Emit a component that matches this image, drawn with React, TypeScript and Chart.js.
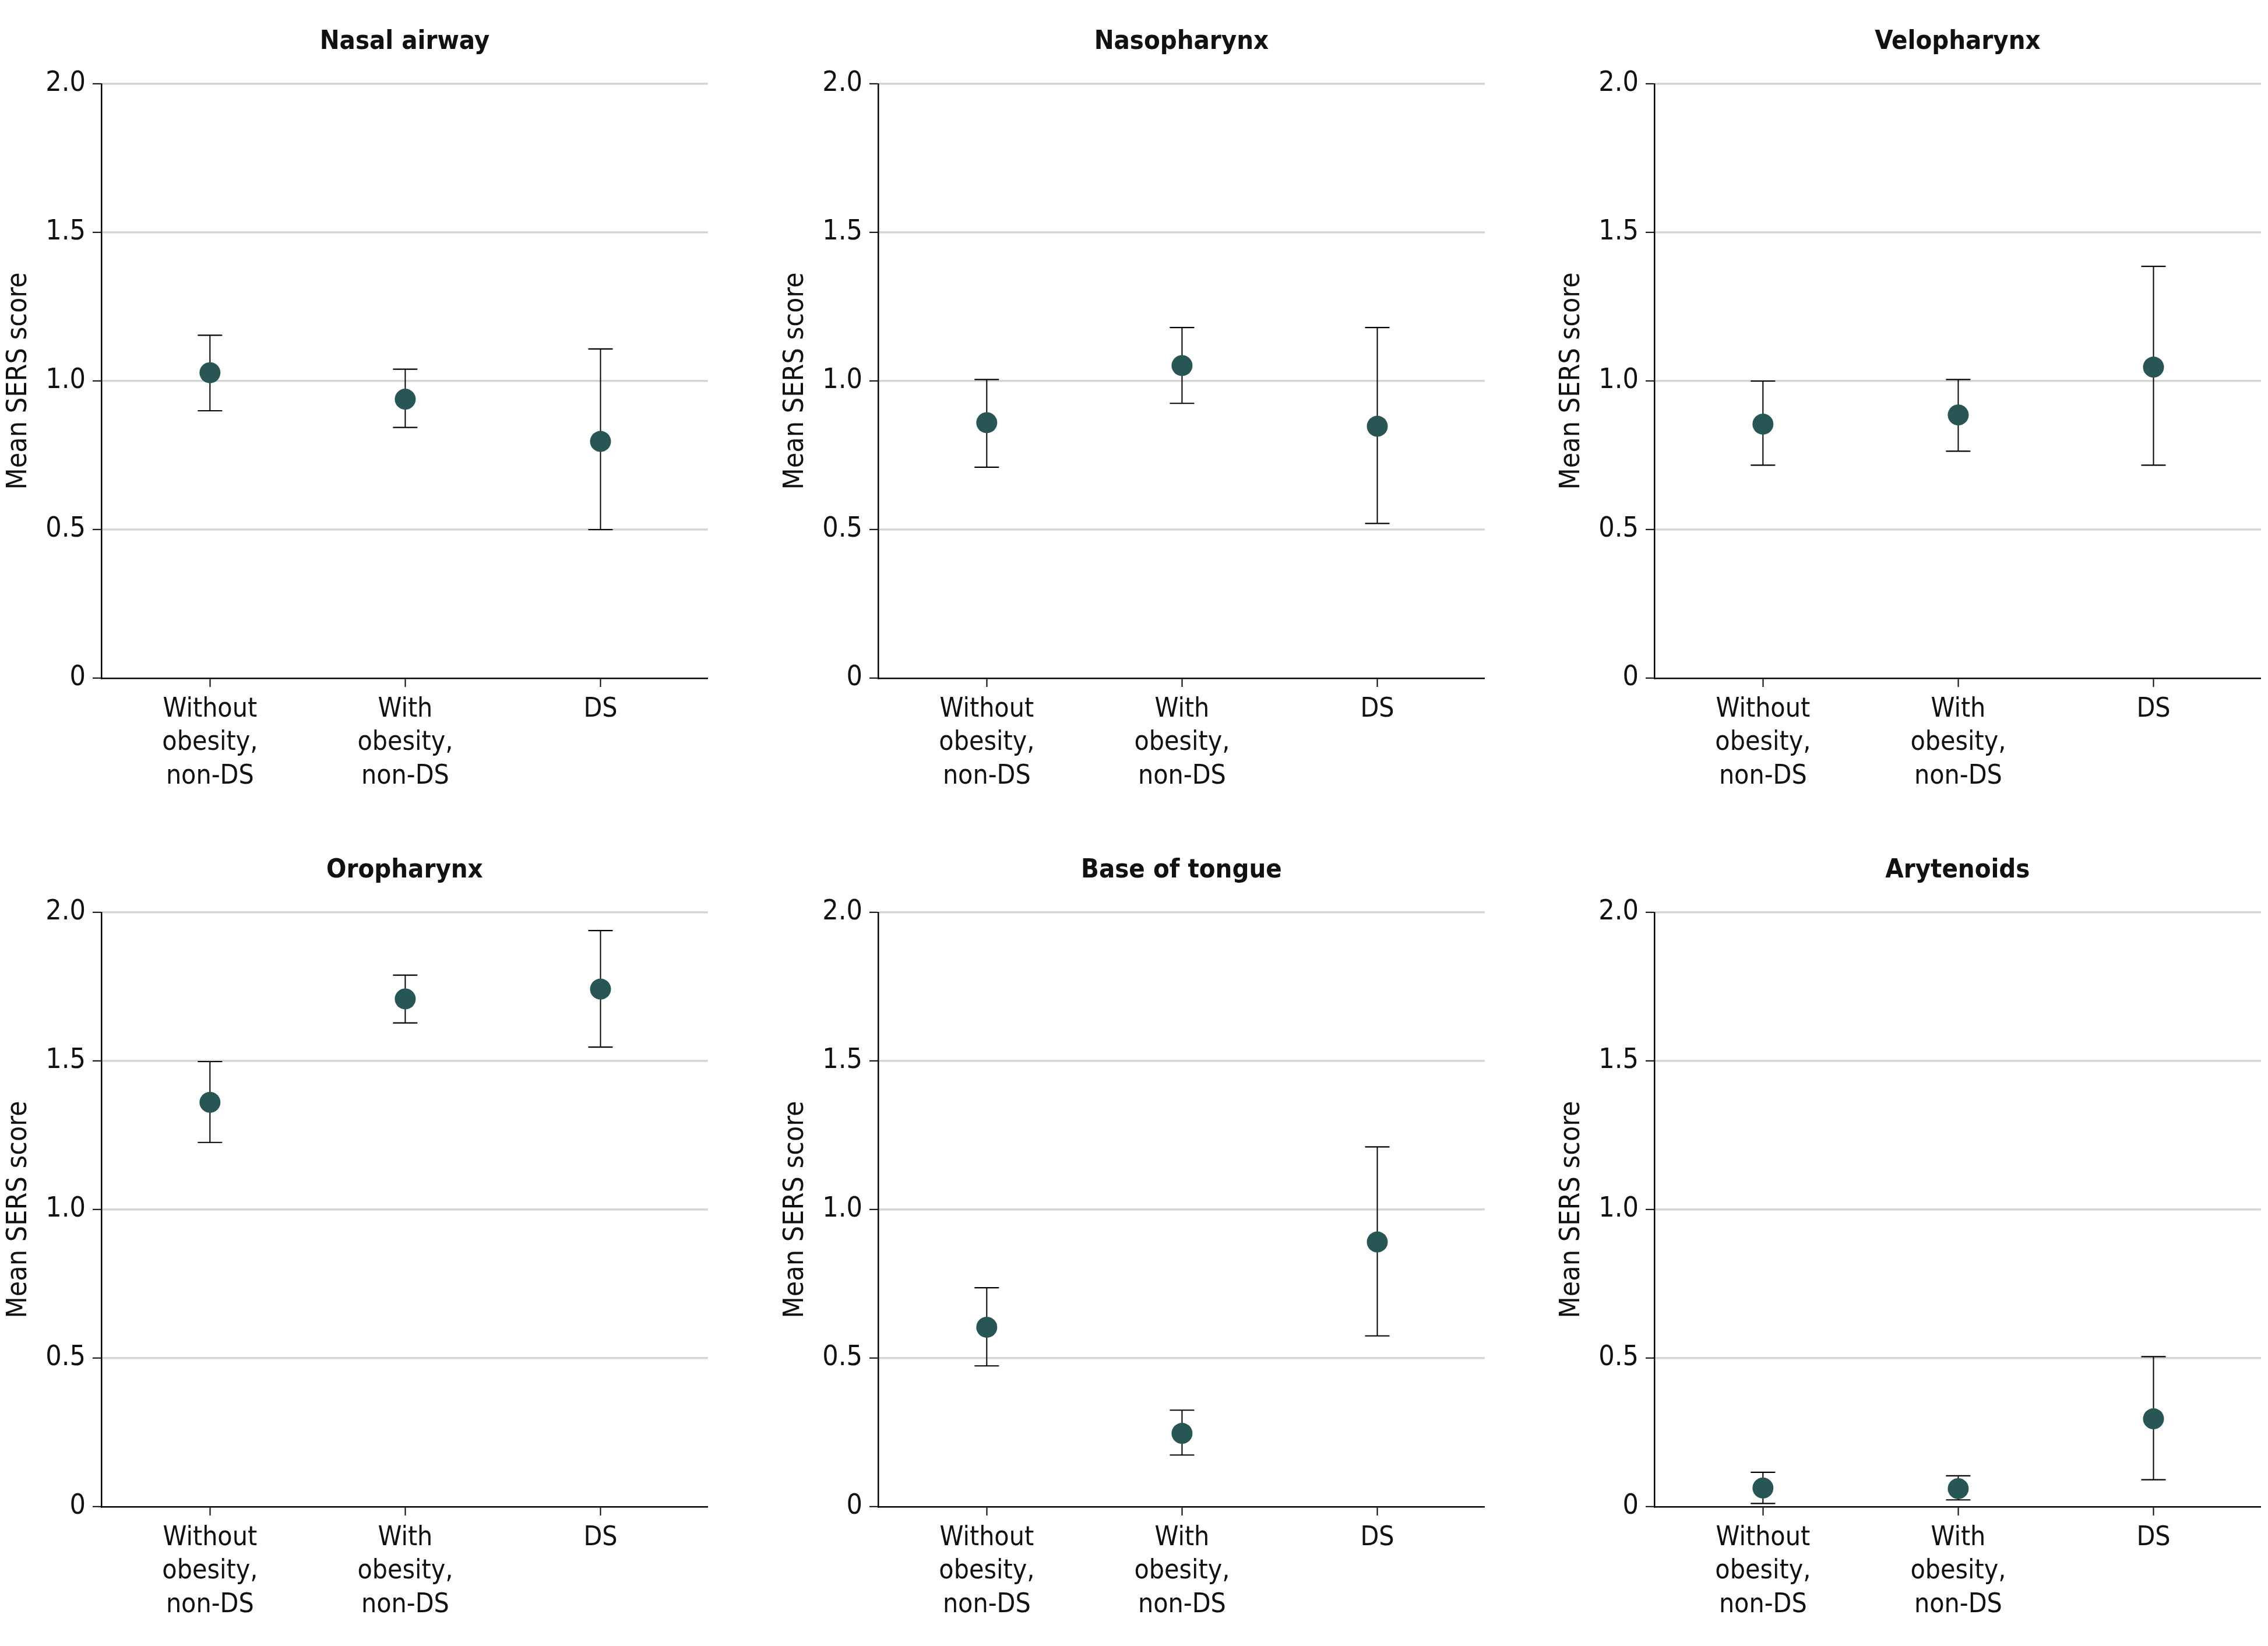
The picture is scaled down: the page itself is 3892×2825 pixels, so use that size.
import React, { useEffect, useRef } from 'react';
import { Chart, registerables } from 'chart.js';

Chart.register(...registerables);

// ---- Data ----
const panelTitles = ['Nasal airway', 'Nasopharynx', 'Velopharynx', 'Oropharynx', 'Base of tongue', 'Arytenoids'];
const categoryLabels: string[][] = [
  ['Without', 'obesity,', 'non-DS'],
  ['With', 'obesity,', 'non-DS'],
  ['DS'],
];
const yTickValues = [0, 0.5, 1.0, 1.5, 2.0];
const yAxisTitle = 'Mean SERS score';

const nasalAirwayMean = [1.028, 0.939, 0.797];
const nasalAirwayLower = [0.9, 0.844, 0.5];
const nasalAirwayUpper = [1.154, 1.04, 1.108];

const nasopharynxMean = [0.86, 1.052, 0.848];
const nasopharynxLower = [0.71, 0.925, 0.521];
const nasopharynxUpper = [1.005, 1.18, 1.18];

const velopharynxMean = [0.855, 0.886, 1.047];
const velopharynxLower = [0.717, 0.764, 0.717];
const velopharynxUpper = [1.0, 1.005, 1.386];

const oropharynxMean = [1.361, 1.709, 1.742];
const oropharynxLower = [1.226, 1.628, 1.547];
const oropharynxUpper = [1.498, 1.789, 1.939];

const baseOfTongueMean = [0.604, 0.247, 0.891];
const baseOfTongueLower = [0.474, 0.174, 0.575];
const baseOfTongueUpper = [0.737, 0.325, 1.211];

const arytenoidsMean = [0.063, 0.061, 0.296];
const arytenoidsLower = [0.011, 0.023, 0.091];
const arytenoidsUpper = [0.116, 0.104, 0.505];

const panelMeans = [nasalAirwayMean, nasopharynxMean, velopharynxMean, oropharynxMean, baseOfTongueMean, arytenoidsMean];
const panelLowers = [nasalAirwayLower, nasopharynxLower, velopharynxLower, oropharynxLower, baseOfTongueLower, arytenoidsLower];
const panelUppers = [nasalAirwayUpper, nasopharynxUpper, velopharynxUpper, oropharynxUpper, baseOfTongueUpper, arytenoidsUpper];

// ---- Layout / style ----
const FONT = "'DejaVu Sans Condensed', 'DejaVu Sans', sans-serif";
const TEXT = '#111111';
const DOT = '#285654';
const GRID = '#d4d4d4';
const COL_LEFT = [0, 1333, 2665];
const ROW_TOP = [0, 1422];
const CANVAS_W = 1238;
const CANVAS_H = 1400;
const Y_AXIS_W = 174;
const X_AXIS_H = 236;
const PAD_RIGHT = 10;

type PanelProps = { title: string; mean: number[]; lower: number[]; upper: number[]; left: number; top: number };

function Panel({ title, mean, lower, upper, left, top }: PanelProps) {
  const ref = useRef<HTMLCanvasElement | null>(null);
  useEffect(() => {
    if (!ref.current) return;
    const datasets: any[] = [
      {
        label: 'Mean',
        data: mean.map((m, i) => ({ x: i, y: m })),
        showLine: false,
        pointRadius: 18,
        pointHoverRadius: 18,
        pointBackgroundColor: DOT,
        pointBorderColor: DOT,
        pointBorderWidth: 0,
      },
      ...mean.map((_, i) => ({
        label: 'CI ' + i,
        data: [
          { x: i, y: lower[i] },
          { x: i, y: upper[i] },
        ],
        showLine: true,
        borderColor: '#000',
        borderWidth: 2,
        pointStyle: 'line',
        pointRadius: 21,
        pointHoverRadius: 21,
        pointBorderColor: '#000',
        pointBackgroundColor: '#000',
        pointBorderWidth: 2.2,
      })),
    ];
    const chart = new Chart(ref.current, {
      type: 'scatter',
      data: { datasets },
      options: {
        animation: false,
        responsive: false,
        maintainAspectRatio: false,
        devicePixelRatio: 1,
        events: [],
        layout: { padding: { left: 0, right: PAD_RIGHT, top: 0, bottom: 0 } },
        plugins: {
          legend: { display: false },
          tooltip: { enabled: false },
          title: {
            display: true,
            text: title,
            fullSize: false,
            color: TEXT,
            font: { family: FONT, size: 45, weight: 'bold', lineHeight: 1.2 },
            padding: { top: 45, bottom: 45 },
          },
        },
        scales: {
          x: {
            type: 'linear',
            min: -0.556,
            max: 2.55,
            afterBuildTicks: (s: any) => {
              s.ticks = categoryLabels.map((_, i) => ({ value: i }));
            },
            afterFit: (s: any) => {
              s.height = X_AXIS_H;
            },
            ticks: {
              autoSkip: false,
              maxRotation: 0,
              minRotation: 0,
              padding: 10,
              color: TEXT,
              font: { family: FONT, size: 46, lineHeight: 1.25 },
              callback: (v: any) => categoryLabels[Math.round(Number(v))] ?? '',
            },
            grid: {
              drawOnChartArea: false,
              drawTicks: true,
              tickLength: 15,
              tickColor: '#000',
              tickWidth: 2,
            },
            border: { display: true, color: '#000', width: 2.5 },
          },
          y: {
            type: 'linear',
            position: 'left',
            min: 0,
            max: 2,
            afterBuildTicks: (s: any) => {
              s.ticks = yTickValues.map((v) => ({ value: v }));
            },
            afterFit: (s: any) => {
              s.width = Y_AXIS_W;
            },
            ticks: {
              padding: 12,
              color: TEXT,
              font: { family: FONT, size: 48 },
              callback: (v: any) => (Number(v) === 0 ? '0' : Number(v).toFixed(1)),
            },
            grid: {
              color: (ctx: any) => (ctx.tick && ctx.tick.value === 0 ? 'rgba(0,0,0,0)' : GRID),
              lineWidth: 3.5,
              drawTicks: true,
              tickLength: 15,
              tickColor: '#000',
              tickWidth: 2,
            },
            border: { display: true, color: '#000', width: 2.5 },
            title: {
              display: true,
              text: yAxisTitle,
              color: TEXT,
              font: { family: FONT, size: 48, lineHeight: 1.2 },
              padding: { top: 4, bottom: 0 },
            },
          },
        },
      } as any,
    });
    return () => chart.destroy();
  }, [title, mean, lower, upper]);
  return (
    <canvas
      ref={ref}
      width={CANVAS_W}
      height={CANVAS_H}
      style={{ position: 'absolute', left, top, width: CANVAS_W, height: CANVAS_H }}
    />
  );
}

export default function App() {
  return (
    <div style={{ position: 'absolute', left: 0, top: 0, width: 3892, height: 2825, background: '#ffffff', overflow: 'hidden' }}>
      {panelTitles.map((t, i) => (
        <Panel
          key={t}
          title={t}
          mean={panelMeans[i]}
          lower={panelLowers[i]}
          upper={panelUppers[i]}
          left={COL_LEFT[i % 3]}
          top={ROW_TOP[Math.floor(i / 3)]}
        />
      ))}
    </div>
  );
}
